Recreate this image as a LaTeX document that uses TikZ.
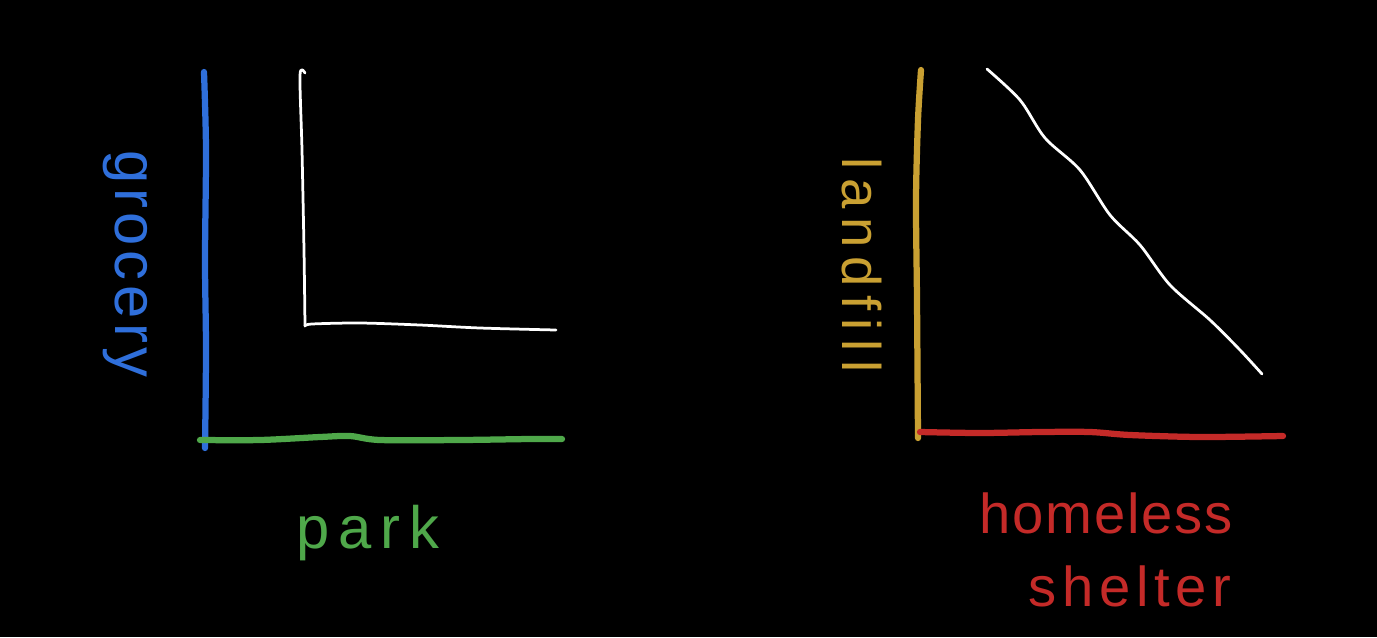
\documentclass[tikz,border=0pt]{standalone}
\usepackage{fontspec}
\setmainfont{Liberation Sans}
\definecolor{axblue}{HTML}{2F6FDB}
\definecolor{axgreen}{HTML}{4FA84A}
\definecolor{axgold}{HTML}{C9A032}
\definecolor{axred}{HTML}{C42A28}
\tikzset{
  axis/.style={line width=0.125cm, line cap=round, line join=round},
  curve/.style={white, line width=0.055cm, line cap=round, line join=round},
  lbl/.style={inner sep=0pt}
}
\begin{document}
\begin{tikzpicture}[x=0.02cm, y=-0.02cm]
\fill[black] (0,0) rectangle (1377,637);
\useasboundingbox (0,0) rectangle (1377,637);
% left graph
\draw[axis, axblue] plot[smooth] coordinates {(204,72) (206,150) (205,260) (206,350) (205,448)};
\draw[axis, axgreen] plot[smooth] coordinates {(200,440) (260,440) (320,437) (350,436) (380,440) (460,440) (530,439) (562,439)};
\draw[curve] plot[smooth] coordinates {(305,73) (300,75) (302,150) (304,250) (305,326)};
\draw[curve] plot[smooth] coordinates {(305,326) (312,324) (360,323) (420,325) (480,328) (556,330)};
\node[lbl, axblue, rotate=-90, font=\fontsize{34}{40}\selectfont\addfontfeatures{LetterSpace=8}] (grocery) at (125,264) {grocery};
\node[lbl, axgreen, anchor=base, font=\fontsize{34}{40}\selectfont\addfontfeatures{LetterSpace=15}] (park) at (368,548) {park};
% right graph
\draw[axis, axgold] plot[smooth] coordinates {(921,70) (918,120) (916,200) (917,300) (918,438)};
\draw[axis, axred] plot[smooth] coordinates {(920,432) (980,433) (1040,432) (1090,432) (1130,435) (1200,437) (1283,436)};
\draw[curve] plot[smooth] coordinates {(987,69) (1020,100) (1045,138) (1080,170) (1110,215) (1140,245) (1170,285) (1210,320) (1240,350) (1262,374)};
\node[lbl, axgold, rotate=-90, font=\fontsize{31}{36}\selectfont\addfontfeatures{LetterSpace=16}] (landfill) at (862,265) {landfill};
\node[lbl, axred, anchor=base, font=\fontsize{32}{38}\selectfont\addfontfeatures{LetterSpace=3}] (homeless) at (1106,533) {homeless};
\node[lbl, axred, anchor=base, font=\fontsize{32}{38}\selectfont\addfontfeatures{LetterSpace=10}] (shelter) at (1130,606) {shelter};
\end{tikzpicture}
\end{document}
